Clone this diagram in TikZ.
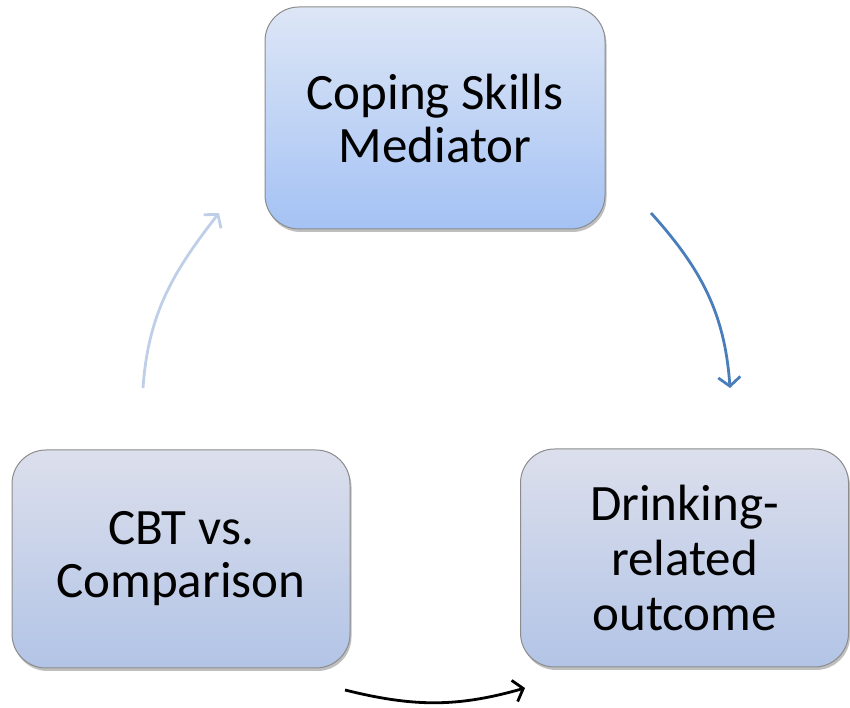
\documentclass[tikz,border=0pt]{standalone}
\usepackage{fontspec}
\setmainfont{Carlito}
\usetikzlibrary{arrows.meta,shadows}
\begin{document}
\begin{tikzpicture}[x=1pt,y=1pt,
  box/.style={rounded corners=34pt, draw=black!45, line width=1pt, align=center,
    font=\fontsize{51}{53}\selectfont, inner sep=0pt,
    drop shadow={shadow xshift=1.5pt, shadow yshift=-3pt, opacity=0.25, fill=black}},
  topbox/.style={box, top color={rgb,255:red,221;green,230;blue,246}, bottom color={rgb,255:red,164;green,194;blue,244}},
  lowbox/.style={box, top color={rgb,255:red,220;green,223;blue,236}, bottom color={rgb,255:red,178;green,196;blue,230}},
  conn/.style={line width=2.8pt, -{Straight Barb[length=9pt,width=22pt]}}
]
\useasboundingbox (0,0) rectangle (850,708);
\node[topbox, minimum width=340pt, minimum height=222pt] (med) at (435,590) {Coping Skills\\Mediator};
\node[lowbox, minimum width=338pt, minimum height=218pt] (cbt) at (181,149) {CBT vs.\\Comparison};
\node[lowbox, minimum width=328pt, minimum height=218pt, font=\fontsize{51}{55}\selectfont] (out) at (684.5,150) {Drinking-\\related\\outcome};
\coordinate (a1) at (143,320);
\coordinate (a2) at (219,495);
\coordinate (b1) at (651,495);
\coordinate (b2) at (730,320);
\coordinate (c1) at (345,18);
\coordinate (c2) at (525,20);
\draw[conn, draw={rgb,255:red,192;green,207;blue,232}] (a1) to[out=86,in=232] (a2);
\draw[conn, draw={rgb,255:red,74;green,126;blue,187}] (b1) to[out=-48,in=94] (b2);
\draw[conn, draw=black] (c1) to[out=-14,in=196] (c2);
\end{tikzpicture}
\end{document}
